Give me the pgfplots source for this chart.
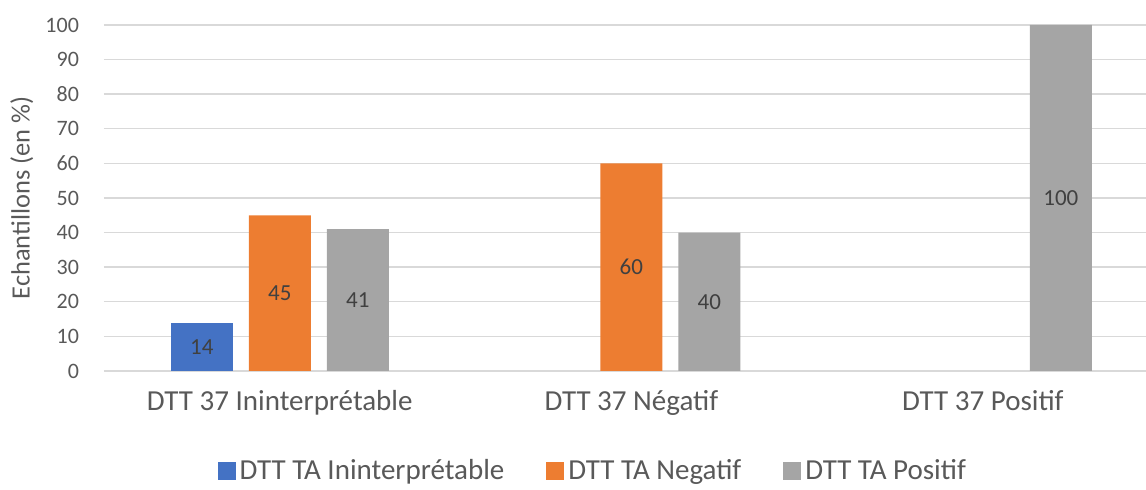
\documentclass[border=0pt]{standalone}
\usepackage{pgfplots}
\pgfplotsset{compat=1.18}
\usepackage{fontspec}
\setmainfont{Carlito}

\definecolor{cblue}{HTML}{4472C4}
\definecolor{corange}{HTML}{ED7D31}
\definecolor{cgray}{HTML}{A5A5A5}
\definecolor{ctext}{HTML}{595959}
\definecolor{cgrid}{HTML}{D9D9D9}

\begin{document}
\begin{tikzpicture}[font=\fontsize{11}{13}\selectfont]
\begin{axis}[
  at={(0,0)}, anchor=south west,
  scale only axis, width=521pt, height=173pt,
  ybar, bar width=31pt,
  xmin=-0.5, xmax=2.464,
  ymin=0, ymax=100, ytick={0,10,...,100},
  xtick={0,1,2},
  xticklabels={DTT 37 Ininterprétable, DTT 37 Négatif, DTT 37 Positif},
  major tick length=0pt,
  axis line style={draw=none},
  ymajorgrids, grid style={cgrid, line width=0.7pt},
  tick label style={text=ctext},
  /pgf/number format/assume math mode=true,
  yticklabel style={xshift=-9pt},
  xticklabel style={font=\fontsize{14.5}{17}\selectfont, yshift=-6pt},
  ylabel={Echantillons (en \%)},
  ylabel style={text=ctext, font=\fontsize{13.2}{15}\selectfont,
    at={(axis description cs:-0.079,0.5)}, anchor=center},
  visualization depends on=y \as \rawy,
  nodes near coords,
  every node near coord/.append style={text=black!75, anchor=center,
    font=\fontsize{11.5}{13}\selectfont,
    shift={(axis direction cs:0,-\rawy/2)}},
  legend columns=3,
  legend style={draw=none, at={(axis description cs:0.470,-0.29)}, anchor=center,
    text=ctext, font=\fontsize{14.5}{17}\selectfont, inner sep=0pt,
    /tikz/every even column/.append style={column sep=19pt}},
  legend image code/.code={\fill[#1] (0pt,-4.5pt) rectangle (9pt,4.5pt);},
  clip=false,
]
\addplot[draw=none, fill=cblue, bar shift=-39pt] coordinates {(0,14)};
\addplot[draw=none, fill=corange, bar shift=0pt] coordinates {(0,45) (1,60)};
\addplot[draw=none, fill=cgray, bar shift=39pt] coordinates {(0,41) (1,40) (2,100)};
\legend{DTT TA Ininterprétable, DTT TA Negatif, DTT TA Positif}
\end{axis}
\pgfresetboundingbox
\useasboundingbox (-52pt,-59.5pt) rectangle (521pt,185.5pt);
\end{tikzpicture}
\end{document}
